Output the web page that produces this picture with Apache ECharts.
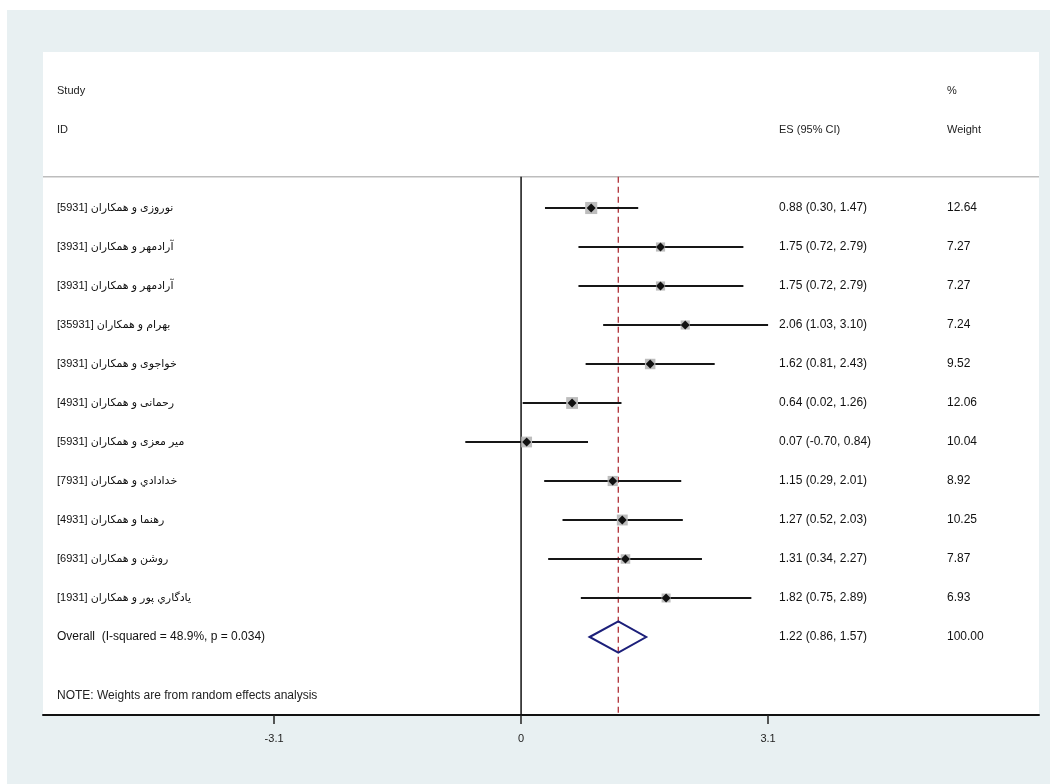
<!DOCTYPE html>
<html>
<head>
<meta charset="utf-8">
<style>
  html, body { margin: 0; padding: 0; background: #ffffff; }
  #chart { width: 1050px; height: 784px; }
</style>
<script src="https://cdn.jsdelivr.net/npm/echarts@6/dist/echarts.min.js"></script>
</head>
<body>
<div id="chart"></div>
<script>
// Study labels (Persian author names with study year)
const studies = [
  '[5931] نوروزی و همکاران',
  '[3931] آرادمهر و همکاران',
  '[3931] آرادمهر و همکاران',
  '[35931] بهرام و همکاران',
  '[3931] خواجوی و همکاران',
  '[4931] رحمانی و همکاران',
  '[5931] میر معزی و همکاران',
  '[7931] خدادادي و همکاران',
  '[4931] رهنما و همکاران',
  '[6931] روشن و همکاران',
  '[1931] يادگاري پور و همکاران'
];
// Effect sizes with 95% confidence limits and % weights
const es      = [0.88, 1.75, 1.75, 2.06, 1.62, 0.64, 0.07, 1.15, 1.27, 1.31, 1.82];
const ciLow   = [0.30, 0.72, 0.72, 1.03, 0.81, 0.02, -0.70, 0.29, 0.52, 0.34, 0.75];
const ciHigh  = [1.47, 2.79, 2.79, 3.10, 2.43, 1.26, 0.84, 2.01, 2.03, 2.27, 2.89];
const weights = [12.64, 7.27, 7.27, 7.24, 9.52, 12.06, 10.04, 8.92, 10.25, 7.87, 6.93];

// Pooled (random effects) estimate
const overallES = 1.22;
const overallLow = 0.86;
const overallHigh = 1.57;
const overallWeight = 100.00;
const overallLabel = 'Overall  (I-squared = 48.9%, p = 0.034)';
const noteText = 'NOTE: Weights are from random effects analysis';

// Axis ticks
const tickValues = [-3.1, 0, 3.1];

const FONT = "'Liberation Sans', Arial, 'DejaVu Sans', sans-serif";
const COL_LABEL = 14;   // offset of study column from plot's left edge
const COL_ES = 779;     // ES (95% CI) column
const COL_W = 947;      // weight column

const fmt = v => v.toFixed(2);
const esText = (e, l, h) => fmt(e) + ' (' + fmt(l) + ', ' + fmt(h) + ')';

function txt(text, x, y, size, color) {
  return {
    type: 'text',
    style: {
      text: text, x: x, y: y,
      font: (size || 12) + 'px ' + FONT,
      fill: color || '#111',
      align: 'left', verticalAlign: 'middle'
    }
  };
}

const studyData = studies.map((s, i) => [es[i], ciLow[i], ciHigh[i], weights[i], i + 1]);

const chart = echarts.init(document.getElementById('chart'), null, { renderer: 'canvas' });

chart.setOption({
  backgroundColor: '#ffffff',
  animation: false,
  graphic: [{
    type: 'rect', z: -5, silent: true,
    shape: { x: 7, y: 10, width: 1043, height: 774 },
    style: { fill: '#e8f0f2' }
  }],
  grid: {
    left: 43, right: 11, top: 52, bottom: 69,
    show: true, backgroundColor: '#ffffff', borderWidth: 0
  },
  xAxis: {
    type: 'value', min: -6, max: 6.5,
    splitLine: { show: false },
    axisLine: { show: true, onZero: false, lineStyle: { color: '#111', width: 2 } },
    axisTick: { show: true, customValues: tickValues, length: 9, lineStyle: { color: '#222', width: 1.5 } },
    axisLabel: {
      customValues: tickValues, margin: 18,
      color: '#222', fontSize: 11, fontFamily: FONT,
      formatter: v => String(v)
    }
  },
  yAxis: {
    type: 'value', min: -3, max: 14, inverse: true, show: false,
    splitLine: { show: false }
  },
  series: [
    // Header rows, top rule and reference lines
    {
      type: 'custom', z: 1,
      data: [[0]],
      renderItem: function (params, api) {
        const cs = params.coordSys;
        const left = cs.x, right = cs.x + cs.width;
        const yRule = api.coord([0, 0.2])[1];
        const yBottom = cs.y + cs.height;
        const x0 = api.coord([0, 0])[0];
        const xPool = api.coord([overallES, 0])[0];
        const yStudy = api.coord([0, -2])[1];
        const yId = api.coord([0, -1])[1];
        return {
          type: 'group',
          children: [
            { type: 'line', shape: { x1: left, y1: yRule, x2: right, y2: yRule },
              style: { stroke: '#bdbdbd', lineWidth: 1.5 } },
            { type: 'line', shape: { x1: x0, y1: yRule, x2: x0, y2: yBottom },
              style: { stroke: '#111', lineWidth: 1.5 } },
            { type: 'line', shape: { x1: xPool, y1: yRule, x2: xPool, y2: yBottom },
              style: { stroke: '#b03038', lineWidth: 1.3, lineDash: [6, 4] } },
            txt('Study', left + COL_LABEL, yStudy, 11, '#222'),
            txt('ID', left + COL_LABEL, yId, 11, '#222'),
            txt('%', COL_W, yStudy, 11, '#222'),
            txt('ES (95% CI)', COL_ES, yId, 11, '#222'),
            txt('Weight', COL_W, yId, 11, '#222'),
            txt(noteText, left + COL_LABEL, api.coord([0, 13.5])[1], 12, '#222')
          ]
        };
      }
    },
    // Individual studies: CI line, weight box, point estimate, text columns
    {
      type: 'custom', z: 3,
      data: studyData,
      encode: { x: [0, 1, 2], y: 4 },
      renderItem: function (params, api) {
        const e = api.value(0), l = api.value(1), h = api.value(2), w = api.value(3), row = api.value(4);
        const p = api.coord([e, row]);
        const pl = api.coord([l, row]);
        const ph = api.coord([h, row]);
        const side = 3.4 * Math.sqrt(w);
        const d = 4.5;
        const cs = params.coordSys;
        return {
          type: 'group',
          children: [
            { type: 'line', shape: { x1: pl[0], y1: p[1], x2: ph[0], y2: p[1] },
              style: { stroke: '#161616', lineWidth: 2 } },
            { type: 'rect', shape: { x: p[0] - side / 2, y: p[1] - side / 2, width: side, height: side },
              style: { fill: '#bdbdbd' } },
            { type: 'polygon', shape: { points: [[p[0] - d, p[1]], [p[0], p[1] - d], [p[0] + d, p[1]], [p[0], p[1] + d]] },
              style: { fill: '#111' } },
            txt(studies[params.dataIndex], cs.x + COL_LABEL, p[1], 11, '#111'),
            txt(esText(e, l, h), COL_ES, p[1], 12, '#111'),
            txt(fmt(w), COL_W, p[1], 12, '#111')
          ]
        };
      }
    },
    // Pooled estimate diamond
    {
      type: 'custom', z: 3,
      data: [[overallES, overallLow, overallHigh, overallWeight, 12]],
      encode: { x: [0, 1, 2], y: 4 },
      renderItem: function (params, api) {
        const e = api.value(0), l = api.value(1), h = api.value(2), w = api.value(3), row = api.value(4);
        const c = api.coord([e, row]);
        const top = api.coord([e, row - 0.4]);
        const bot = api.coord([e, row + 0.4]);
        const pl = api.coord([l, row]);
        const ph = api.coord([h, row]);
        const cs = params.coordSys;
        return {
          type: 'group',
          children: [
            { type: 'polygon',
              shape: { points: [[pl[0], c[1]], [top[0], top[1]], [ph[0], c[1]], [bot[0], bot[1]]] },
              style: { fill: 'none', stroke: '#1c1f7a', lineWidth: 2 } },
            txt(overallLabel, cs.x + COL_LABEL, c[1], 12, '#111'),
            txt(esText(e, l, h), COL_ES, c[1], 12, '#111'),
            txt(fmt(w), COL_W, c[1], 12, '#111')
          ]
        };
      }
    }
  ]
});
</script>
</body>
</html>
